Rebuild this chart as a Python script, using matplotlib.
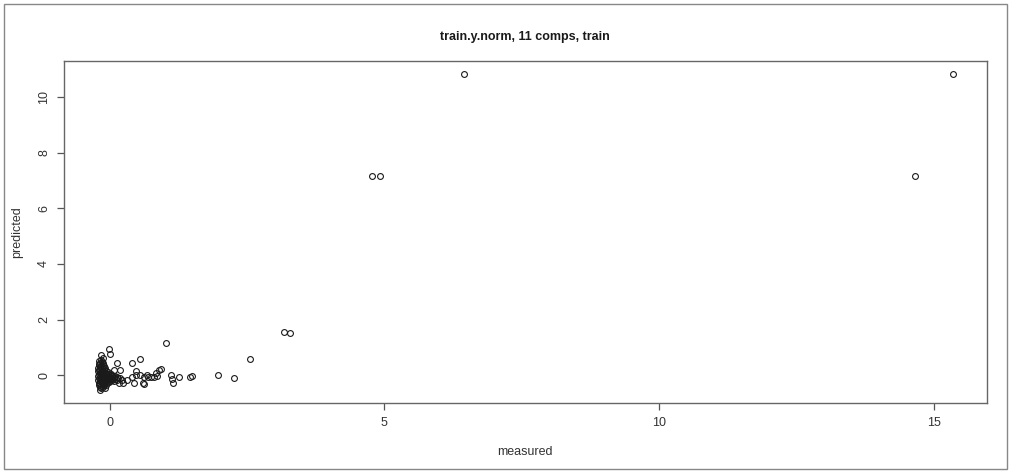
import matplotlib
matplotlib.use("Agg")
import matplotlib.pyplot as plt
from matplotlib.patches import Rectangle

plt.rcParams['font.family'] = ['Liberation Sans', 'DejaVu Sans']

# dense group of samples near the origin
blob_x = [-0.17, -0.14, -0.19, -0.12,
          -0.20, -0.16, -0.13, -0.10, -0.18,
          -0.21, -0.17, -0.14, -0.11, -0.08, -0.19,
          -0.21, -0.16, -0.13, -0.10, -0.07, -0.04, -0.18,
          -0.20, -0.15, -0.12, -0.09, -0.06, -0.03, 0.00, 0.03,
          -0.21, -0.17, -0.14, -0.11, -0.08, -0.05, -0.02, 0.01, 0.04, 0.07, 0.10, 0.13,
          -0.19, -0.16, -0.13, -0.10, -0.07, -0.04, -0.01, 0.02, 0.05, 0.08, 0.11, 0.15, 0.19,
          -0.21, -0.18, -0.15, -0.12, -0.09, -0.06, -0.03, 0.00, 0.04, 0.08,
          -0.20, -0.17, -0.14, -0.11, -0.08, -0.05, -0.02,
          -0.19, -0.16, -0.13, -0.10, -0.07,
          -0.18, -0.15, -0.12, -0.09,
          -0.17, -0.20, -0.15]
blob_y = [0.45, 0.48, 0.40, 0.42,
          0.35, 0.33, 0.36, 0.31, 0.28,
          0.24, 0.22, 0.26, 0.21, 0.24, 0.18,
          0.14, 0.12, 0.15, 0.11, 0.16, 0.12, 0.08,
          0.04, 0.05, 0.02, 0.06, 0.03, 0.05, 0.02, 0.04,
          -0.04, -0.06, -0.03, -0.07, -0.04, -0.06, -0.03, -0.07, -0.04, -0.06, -0.05, -0.08,
          -0.12, -0.10, -0.14, -0.11, -0.13, -0.10, -0.14, -0.11, -0.13, -0.10, -0.14, -0.12, -0.11,
          -0.19, -0.22, -0.18, -0.21, -0.19, -0.22, -0.18, -0.21, -0.19, -0.22,
          -0.27, -0.30, -0.26, -0.29, -0.27, -0.30, -0.26,
          -0.35, -0.38, -0.34, -0.37, -0.35,
          -0.43, -0.46, -0.42, -0.45,
          -0.55, 0.52, 0.56]

# scattered samples with larger measured / predicted values
spread_x = [0.00, -0.02, -0.16, -0.13, 0.14, 0.41, 0.56, 0.08, 0.19, 0.47,
            0.40, 0.47, 0.56, 0.67, 0.14, 0.23, 0.32, 0.16, 0.25, 0.44, 0.60,
            0.62, 0.69, 0.75, 0.80, 0.86, 0.84, 0.89, 0.94, 0.62,
            1.02, 1.11, 1.14, 1.15, 1.26, 1.47, 1.50, 1.98, 2.26, 2.55,
            3.18, 3.28, 4.78, 4.92, 6.45, 14.67, 15.35]
spread_y = [0.76, 0.94, 0.72, 0.60, 0.42, 0.42, 0.57, 0.20, 0.20, 0.16,
            -0.06, 0.00, 0.00, 0.00, -0.18, -0.18, -0.18, -0.30, -0.30, -0.28, -0.30,
            -0.06, -0.06, -0.06, -0.06, -0.03, 0.07, 0.18, 0.22, -0.32,
            1.17, 0.00, -0.14, -0.30, -0.06, -0.07, -0.02, 0.00, -0.12, 0.57,
            1.55, 1.50, 7.15, 7.15, 10.85, 7.15, 10.85]

measured = blob_x + spread_x
predicted = blob_y + spread_y

fig = plt.figure(figsize=(10.11, 4.72), dpi=100)
ax = fig.add_axes([64 / 1011, 69 / 472, 923 / 1011, 342 / 472])

ax.plot(measured, predicted, linestyle='none', marker='o', markersize=4.2,
        markerfacecolor='none', markeredgecolor='#1a1a1a', markeredgewidth=0.8)

ax.margins(0.04)
ax.set_xticks([0, 5, 10, 15])
ax.set_yticks([0, 2, 4, 6, 8, 10])
ax.tick_params(direction='out', length=5, width=0.9, color='#555555',
               labelsize=9, labelcolor='#333333', pad=5)
for lab in ax.get_yticklabels():
    lab.set_rotation(90)
    lab.set_va('center')
for sp in ax.spines.values():
    sp.set_color('#666666')
    sp.set_linewidth(1.0)

fig.text(525 / 1011, 1 - 37 / 472, 'train.y.norm, 11 comps, train',
         ha='center', va='center', fontsize=9, fontweight='bold', color='#1a1a1a')
fig.text(525 / 1011, 1 - 452 / 472, 'measured',
         ha='center', va='center', fontsize=9, color='#333333')
fig.text(17 / 1011, 1 - 232 / 472, 'predicted', rotation=90,
         ha='center', va='center', fontsize=9, color='#333333')

# thin outer frame
fig.patches.append(Rectangle((4 / 1011, 3 / 472), 1003 / 1011, 465 / 472,
                             transform=fig.transFigure, fill=False,
                             edgecolor='#888888', linewidth=1.0))

fig.savefig('out.png', dpi=100)
